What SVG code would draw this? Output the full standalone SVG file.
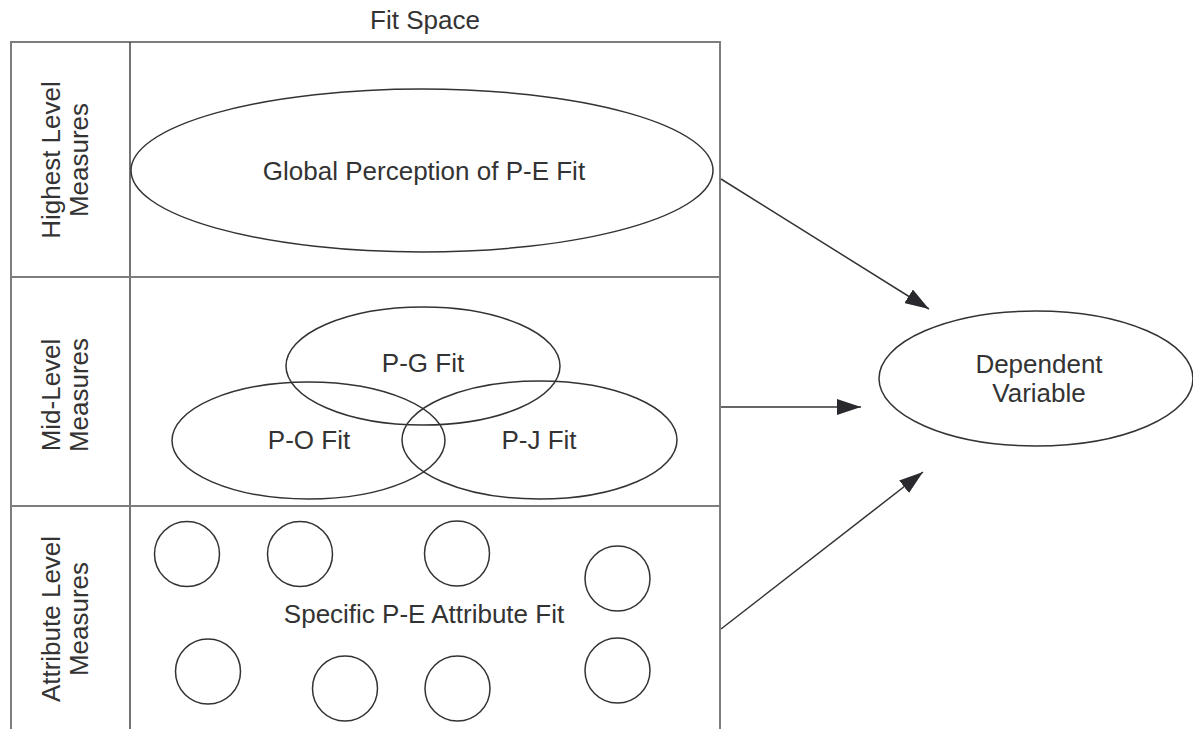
<svg xmlns="http://www.w3.org/2000/svg" width="1193" height="729" viewBox="0 0 1193 729">
  <style>
    text { font-family: "Liberation Sans", Arial, sans-serif; font-size: 26px; fill: #333; text-anchor: middle; }
    .frame { fill: none; stroke: #7d7d7d; stroke-width: 2; }
    .divider { fill: none; stroke: #444; stroke-width: 1.5; }
    .shape { fill: none; stroke: #333; stroke-width: 1.5; }
    .conn { stroke: #333; stroke-width: 1.5; fill: none; }
  </style>
  <defs>
    <marker id="arrow" markerWidth="24" markerHeight="16" refX="24" refY="8" orient="auto" markerUnits="userSpaceOnUse">
      <path d="M0,0 L24,8 L0,16 Z" fill="#2a2a2e"/>
    </marker>
  </defs>
  <rect width="1193" height="729" fill="#fff"/>

  <!-- title -->
  <text x="425" y="29">Fit Space</text>

  <!-- frame of the fit space -->
  <g id="frame">
    <path class="frame" d="M11,740 L11,42 L720,42 L720,740"/>
    <line class="divider" x1="130" y1="42" x2="130" y2="740"/>
    <line class="frame" x1="11" y1="277" x2="720" y2="277"/>
    <line class="frame" x1="11" y1="506" x2="720" y2="506"/>
  </g>

  <!-- row labels -->
  <g id="label-highest">
    <text transform="translate(60,160) rotate(-90)">Highest Level</text>
    <text transform="translate(88,160) rotate(-90)">Measures</text>
  </g>
  <g id="label-mid">
    <text transform="translate(60,395) rotate(-90)">Mid-Level</text>
    <text transform="translate(88,395) rotate(-90)">Measures</text>
  </g>
  <g id="label-attribute">
    <text transform="translate(60,619) rotate(-90)">Attribute Level</text>
    <text transform="translate(88,619) rotate(-90)">Measures</text>
  </g>

  <!-- highest level -->
  <g id="global-fit">
    <ellipse class="shape" cx="422" cy="170.5" rx="291" ry="81.5"/>
    <text x="424" y="180">Global Perception of P-E Fit</text>
  </g>

  <!-- mid level -->
  <g id="pg-fit">
    <ellipse class="shape" cx="423" cy="366" rx="137" ry="59"/>
    <text x="423" y="372">P-G Fit</text>
  </g>
  <g id="po-fit">
    <ellipse class="shape" cx="308.5" cy="440.5" rx="136.5" ry="58.5"/>
    <text x="309" y="449">P-O Fit</text>
  </g>
  <g id="pj-fit">
    <ellipse class="shape" cx="539.5" cy="440" rx="137.5" ry="59"/>
    <text x="539" y="449">P-J Fit</text>
  </g>

  <!-- attribute level -->
  <g id="attribute-fit">
    <circle class="shape" cx="187" cy="554" r="32.5"/>
    <circle class="shape" cx="300" cy="554" r="32.5"/>
    <circle class="shape" cx="457" cy="553.5" r="32.5"/>
    <circle class="shape" cx="617.5" cy="578.5" r="32.5"/>
    <circle class="shape" cx="208" cy="671.5" r="32.5"/>
    <circle class="shape" cx="345" cy="688.5" r="32.5"/>
    <circle class="shape" cx="457.5" cy="688.5" r="32.5"/>
    <circle class="shape" cx="617.5" cy="670.5" r="32.5"/>
    <text x="424" y="623">Specific P-E Attribute Fit</text>
  </g>

  <!-- outcome -->
  <g id="dependent-variable">
    <ellipse class="shape" cx="1036" cy="378.5" rx="157" ry="67.5"/>
    <text x="1039" y="373">Dependent</text>
    <text x="1039" y="402">Variable</text>
  </g>

  <!-- connectors -->
  <g id="connectors">
    <line class="conn" x1="721" y1="179" x2="929" y2="309" marker-end="url(#arrow)"/>
    <line class="conn" x1="721" y1="407" x2="861" y2="407" marker-end="url(#arrow)"/>
    <line class="conn" x1="721" y1="629" x2="923" y2="472" marker-end="url(#arrow)"/>
  </g>
</svg>
